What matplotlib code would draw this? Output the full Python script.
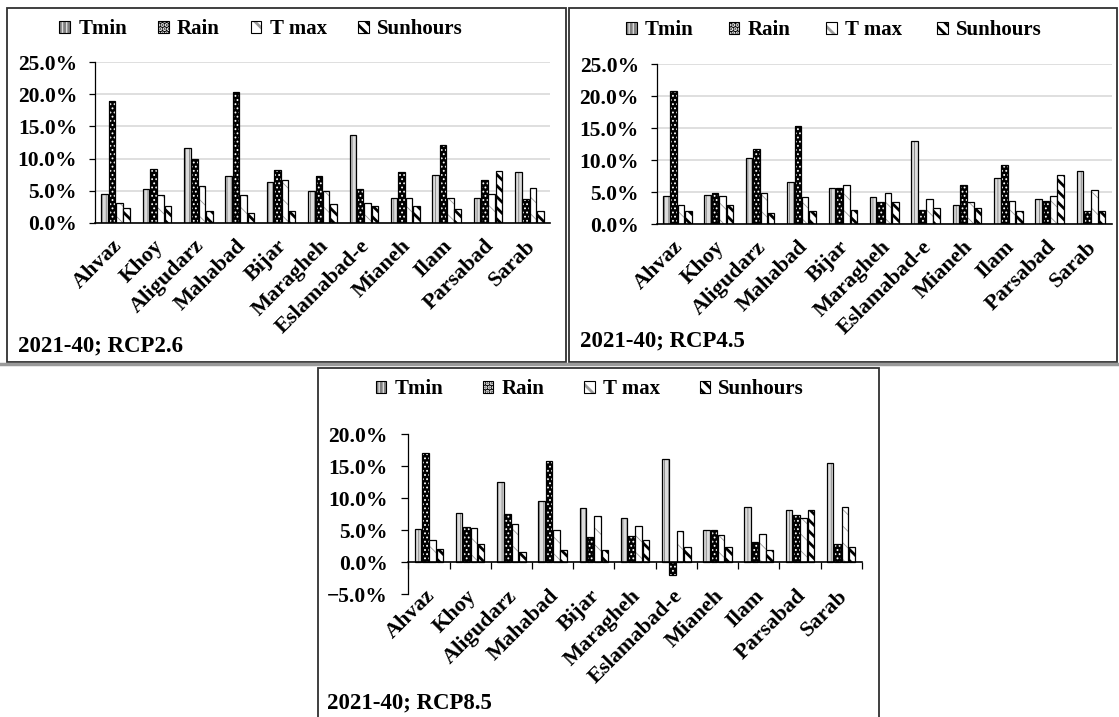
import matplotlib.pyplot as plt
from matplotlib.patches import Rectangle, Patch
from matplotlib.transforms import blended_transform_factory
from matplotlib.ticker import PercentFormatter
from matplotlib.lines import Line2D
import numpy as np

plt.rcParams['font.family'] = ['Liberation Serif', 'DejaVu Serif']
plt.rcParams['font.weight'] = 'bold'

stations = ['Ahvaz', 'Khoy', 'Aligudarz', 'Mahabad', 'Bijar', 'Maragheh',
            'Eslamabad-e', 'Mianeh', 'Ilam', 'Parsabad', 'Sarab']
series = ['Tmin', 'Rain', 'T max', 'Sunhours']

# relative change (%) per station, 2021-40
tmin_26 = [4.5, 5.3, 11.6, 7.3, 6.4, 5.0, 13.7, 3.9, 7.5, 3.9, 7.9]
rain_26 = [19.0, 8.4, 10.0, 20.4, 8.2, 7.3, 5.3, 7.9, 12.1, 6.6, 3.8]
tmax_26 = [3.1, 4.4, 5.8, 4.4, 6.6, 5.0, 3.1, 3.9, 3.9, 4.5, 5.5]
sun_26 = [2.3, 2.6, 1.9, 1.5, 1.9, 2.9, 2.6, 2.6, 2.2, 8.1, 1.9]

tmin_45 = [4.4, 4.6, 10.3, 6.6, 5.7, 4.2, 13.1, 3.0, 7.2, 4.0, 8.4]
rain_45 = [20.9, 4.9, 11.8, 15.4, 5.7, 3.5, 2.2, 6.2, 9.2, 3.7, 2.0]
tmax_45 = [3.0, 4.4, 4.9, 4.2, 6.2, 4.9, 4.0, 3.5, 3.7, 4.4, 5.4]
sun_45 = [2.0, 3.0, 1.7, 2.0, 2.2, 3.5, 2.6, 2.6, 2.0, 7.7, 2.0]

tmin_85 = [5.2, 7.7, 12.5, 9.5, 8.4, 6.8, 16.1, 5.0, 8.6, 8.2, 15.5]
rain_85 = [17.0, 5.5, 7.5, 15.8, 3.9, 4.1, -2.1, 5.0, 3.2, 7.4, 2.8]
tmax_85 = [3.4, 5.3, 5.9, 5.0, 7.2, 5.6, 4.8, 4.3, 4.4, 6.8, 8.6]
sun_85 = [2.1, 2.8, 1.5, 1.9, 1.9, 3.4, 2.4, 2.4, 1.9, 8.2, 2.4]

# fill colour, hatch colour, hatch, hatch line width
styles = [
    ('#dcdcdc', '#808080', '||||', 0.6),
    ('#000000', '#ffffff', '....', 0.8),
    ('#ffffff', '#9a9a9a', '\\\\', 0.6),
    ('#ffffff', '#000000', '\\\\\\', 2.0),
]
width = 0.16
step = 0.178


def drawBars(ax, vals):
    x = np.arange(len(stations))
    for k, (v, st) in enumerate(zip(vals, styles)):
        pos = x + (k - 1.5) * step
        plt.rcParams['hatch.linewidth'] = st[3]
        ax.bar(pos, v, width, color=st[0], edgecolor=st[1], hatch=st[2],
               linewidth=0)
        ax.bar(pos, v, width, fill=False, edgecolor='black', linewidth=0.9)


def legendHandles():
    hs = []
    for st in styles:
        plt.rcParams['hatch.linewidth'] = st[3]
        hs.append((Patch(facecolor=st[0], edgecolor=st[1], hatch=st[2], linewidth=0),
                   Patch(fill=False, edgecolor='black', linewidth=0.8)))
    return hs


def stationLabels(ax, ypos):
    trans = blended_transform_factory(ax.transData, ax.transAxes)
    for i, name in enumerate(stations):
        ax.text(i - 0.1, ypos, name, transform=trans, rotation=45,
                ha='right', va='top', rotation_mode='anchor',
                fontsize=16, fontweight='bold')


def setupAxes(ax, lo, hi, grid, tlen, tpad):
    ax.set_xlim(-0.5, 10.5)
    ax.set_ylim(lo, hi)
    ax.set_yticks(np.arange(lo, hi + 1, 5))
    ax.yaxis.set_major_formatter(PercentFormatter(decimals=1))
    ax.spines['top'].set_visible(False)
    ax.spines['right'].set_visible(False)
    ax.tick_params(axis='y', direction='out', length=tlen, width=0.9,
                   labelsize=15.5, pad=tpad)
    for lab in ax.get_yticklabels():
        lab.set_fontweight('bold')
    if grid:
        ax.grid(axis='y', color='#d9d9d9', linewidth=1.2)
        ax.set_axisbelow(True)
        ax.set_xticks([])
    ax.spines['left'].set_linewidth(0.9)
    ax.spines['bottom'].set_linewidth(1.2)


fig = plt.figure(figsize=(11.19, 7.17), dpi=100)

# panel frames (pixel boxes converted to figure fractions)
W, H = 1119, 717
for (x0, y0, x1, y1) in [(7, 8, 566, 362), (569, 8, 1117, 362), (318, 368, 879, 730)]:
    fig.patches.append(Rectangle((x0 / W, 1 - y1 / H), (x1 - x0) / W, (y1 - y0) / H,
                                 transform=fig.transFigure, fill=False,
                                 edgecolor='#303030', linewidth=1.3))
fig.add_artist(Line2D([0, 1], [1 - 364 / H, 1 - 364 / H], transform=fig.transFigure,
                      color='#9a9a9a', linewidth=2.5))

handles = legendHandles()

panels = [
    ([0.0849, 0.689, 0.4066, 0.2245], [tmin_26, rain_26, tmax_26, sun_26], 0, 25,
     (261, 29), 1.5, (18, 351), '2021-40; RCP2.6'),
    ([0.5869, 0.6872, 0.4066, 0.2229], [tmin_45, rain_45, tmax_45, sun_45], 0, 25,
     (834, 30), 1.7, (580, 346), '2021-40; RCP4.5'),
    ([0.3649, 0.1715, 0.4052, 0.2232], [tmin_85, rain_85, tmax_85, sun_85], -5, 20,
     (590, 389), 1.9, (327, 708), '2021-40; RCP8.5'),
]

for rect, vals, lo, hi, legpos, colsp, txtpos, title in panels:
    ax = fig.add_axes(rect)
    drawBars(ax, vals)
    if lo < 0:
        setupAxes(ax, lo, hi, False, 5, 10)
        ax.spines['bottom'].set_position(('data', 0))
        ax.set_xticks(np.arange(-0.5, 11, 1))
        ax.tick_params(axis='x', direction='out', length=5, width=0.9,
                       labelbottom=False)
        stationLabels(ax, 0.05)
    else:
        setupAxes(ax, lo, hi, True, 4.3, 8.6)
        stationLabels(ax, -0.08)
    fig.legend(handles, series, loc='center',
               bbox_to_anchor=(legpos[0] / W, 1 - legpos[1] / H), ncol=4,
               frameon=False, handlelength=0.5, handleheight=0.5,
               handletextpad=0.4, columnspacing=colsp,
               prop={'size': 15, 'weight': 'bold'})
    fig.text(txtpos[0] / W, 1 - txtpos[1] / H, title, fontsize=16.5,
             fontweight='bold', ha='left', va='baseline')

fig.savefig('out.png', dpi=100)
